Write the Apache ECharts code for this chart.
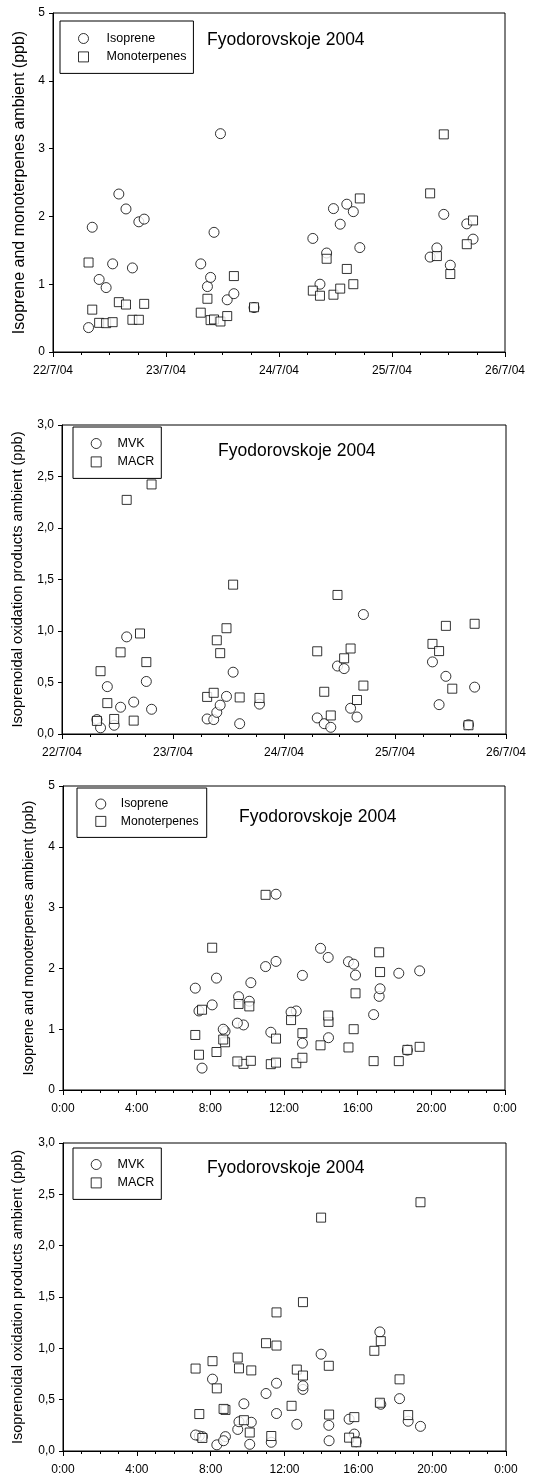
<!DOCTYPE html>
<html>
<head>
<meta charset="utf-8">
<title>Fyodorovskoje 2004</title>
<script src="https://cdn.jsdelivr.net/npm/echarts@6/dist/echarts.min.js"></script>
<style>
  html, body { margin: 0; padding: 0; background: #fff; }
  #chart { width: 534px; height: 1478px; }
</style>
</head>
<body>
<div id="chart"></div>
<script>
// Sampling times (local time) at Fyodorovskoje, July 2004
const sampleTimes = [
  '2004-07-22 07:33', '2004-07-22 08:20', '2004-07-22 09:48', '2004-07-22 11:17', '2004-07-22 12:40',
  '2004-07-22 13:59', '2004-07-22 15:30', '2004-07-22 16:52', '2004-07-22 18:14', '2004-07-22 19:22',
  '2004-07-23 07:23', '2004-07-23 08:48', '2004-07-23 09:28', '2004-07-23 10:12', '2004-07-23 11:34',
  '2004-07-23 13:00', '2004-07-23 14:25', '2004-07-23 18:42',
  '2004-07-24 07:11', '2004-07-24 08:42', '2004-07-24 10:07', '2004-07-24 11:34', '2004-07-24 13:00',
  '2004-07-24 14:24', '2004-07-24 15:47', '2004-07-24 17:10',
  '2004-07-25 08:06', '2004-07-25 09:32', '2004-07-25 11:00', '2004-07-25 12:23', '2004-07-25 15:53',
  '2004-07-25 17:13'
];

// Ambient mixing ratios (ppb), one value per sample; null = no measurement
const isoprene = [
  0.36, 1.84, 1.07, 0.95, 1.30, 2.33, 2.11, 1.24, 1.92, 1.96,
  1.30, 0.965, 1.10, 1.765, 3.22, 0.77, 0.86, 0.655,
  1.675, 1.00, 1.46, 2.115, 1.885, 2.18, 2.07, 1.54,
  1.40, 1.535, 2.03, 1.28, 1.89, 1.665
];
const monoterpenes = [
  1.32, 0.625, 0.43, 0.425, 0.44, 0.735, 0.70, 0.475, 0.475, 0.71,
  0.58, 0.785, 0.47, 0.48, 0.45, 0.53, 1.12, 0.66,
  0.905, 0.83, 1.375, 0.845, 0.935, 1.225, 1.00, 2.265,
  2.34, 1.415, 3.21, 1.15, 1.59, 1.94
];
const mvk = [
  0.14, 0.06, 0.46, 0.085, 0.26, 0.943, 0.31, null, 0.51, 0.24,
  0.146, 0.14, 0.21, 0.28, 0.365, 0.60, 0.10, 0.29,
  0.156, 0.10, 0.065, 0.66, 0.635, 0.25, 0.165, 1.16,
  0.70, 0.285, 0.56, null, 0.09, 0.455
];
const macr = [
  0.127, 0.61, 0.30, 0.146, 0.793, 2.273, 0.13, 0.976, 0.698, 2.423,
  0.36, 0.40, 0.91, 0.785, 1.027, 1.45, 0.355, 0.35,
  0.803, 0.41, 0.18, 1.35, 0.735, 0.83, 0.33, 0.47,
  0.875, 0.805, 1.05, 0.44, 0.085, 1.07
];

const siteTitle = 'Fyodorovskoje 2004';
const yTitleTerpenes = 'Isoprene and monoterpenes ambient (ppb)';
const yTitleProducts = 'Isoprenoidal oxidation products ambient (ppb)';

// ---- helpers ----
const DAY = 86400000;
const dateStart = Date.UTC(2004, 6, 22);
const dateEnd = Date.UTC(2004, 6, 26);

function stamp(s) {
  const [d, t] = s.split(' ');
  const [Y, M, D] = d.split('-').map(Number);
  const [h, m] = t.split(':').map(Number);
  return Date.UTC(Y, M - 1, D, h, m);
}
function hourOfDay(s) {
  const [h, m] = s.split(' ')[1].split(':').map(Number);
  return h + m / 60;
}
function pairs(xFn, values) {
  const out = [];
  sampleTimes.forEach((s, i) => {
    if (values[i] !== null && values[i] !== undefined) out.push([xFn(s), values[i]]);
  });
  return out;
}

const FONT = '"Liberation Sans", Arial, Helvetica, sans-serif';
const BLACK = '#000';

const grids = [
  { left: 53, top: 13, width: 452, height: 339 },
  { left: 62, top: 425, width: 444, height: 309 },
  { left: 63, top: 786, width: 442, height: 304 },
  { left: 63, top: 1143, width: 443, height: 308 }
].map(g => Object.assign({ show: true, borderColor: BLACK, borderWidth: 1, backgroundColor: 'transparent' }, g));

function xAxisBase(gridIndex) {
  return {
    gridIndex,
    type: 'value',
    axisLine: { show: true, onZero: false, lineStyle: { color: BLACK, width: 1 } },
    axisTick: { show: true, inside: false, length: 5, lineStyle: { color: BLACK } },
    minorTick: { show: true, splitNumber: 4, length: 3, lineStyle: { color: BLACK } },
    splitLine: { show: false },
    minorSplitLine: { show: false },
    axisLabel: { color: BLACK, fontSize: 12, fontFamily: FONT, margin: 13, showMinLabel: true, showMaxLabel: true }
  };
}
function dateAxis(gridIndex) {
  const a = xAxisBase(gridIndex);
  a.min = dateStart;
  a.max = dateEnd;
  a.interval = DAY;
  a.axisLabel.formatter = v => {
    const d = new Date(v);
    return d.getUTCDate() + '/' + (d.getUTCMonth() + 1) + '/04';
  };
  return a;
}
function hourAxis(gridIndex) {
  const a = xAxisBase(gridIndex);
  a.min = 0;
  a.max = 24;
  a.interval = 4;
  a.axisLabel.formatter = v => (v % 24) + ':00';
  return a;
}
function yAxis(gridIndex, max, interval, name, nameSize, nameGap, comma) {
  return {
    gridIndex,
    type: 'value',
    min: 0,
    max,
    interval,
    name,
    nameLocation: 'middle',
    nameGap,
    nameTextStyle: { color: BLACK, fontSize: nameSize, fontFamily: FONT },
    axisLine: { show: true, lineStyle: { color: BLACK, width: 1 } },
    axisTick: { show: true, inside: false, length: 4, lineStyle: { color: BLACK } },
    splitLine: { show: false },
    axisLabel: {
      color: BLACK, fontSize: 12, fontFamily: FONT, margin: 8,
      formatter: comma ? (v => v.toFixed(1).replace('.', ',')) : (v => String(v))
    }
  };
}

const circleStyle = { color: '#fff', borderColor: BLACK, borderWidth: 1 };
const squareStyle = { color: '#fff', borderColor: BLACK, borderWidth: 1 };

function scatter(name, idx, data, symbol, size, z) {
  return {
    name, type: 'scatter', xAxisIndex: idx, yAxisIndex: idx, data,
    symbol, symbolSize: size, z,
    itemStyle: symbol === 'circle' ? circleStyle : squareStyle,
    emphasis: { disabled: true }, silent: true
  };
}

// Boxed legend: circle row for the first species, square row for the second
function legendBox(names, left, top, padding, textGap, fontSize) {
  return {
    orient: 'vertical',
    left, top,
    padding,
    itemWidth: 10, itemHeight: 10, itemGap: 5.4,
    borderColor: BLACK, borderWidth: 1, backgroundColor: '#fff',
    selectedMode: false,
    textStyle: { color: BLACK, fontSize, fontFamily: FONT, padding: [0, 0, 0, textGap] },
    data: [
      { name: names[0], icon: 'circle', itemStyle: circleStyle },
      { name: names[1], icon: 'rect', itemStyle: Object.assign({}, squareStyle) }
    ]
  };
}

const titleStyle = { color: BLACK, fontSize: 17.5, fontWeight: 'normal', fontFamily: FONT };

const option = {
  animation: false,
  backgroundColor: '#fff',
  textStyle: { fontFamily: FONT },
  title: [
    { text: siteTitle, left: 207, top: 31, padding: 0, textStyle: titleStyle },
    { text: siteTitle, left: 218, top: 442, padding: 0, textStyle: titleStyle },
    { text: siteTitle, left: 239, top: 808, padding: 0, textStyle: titleStyle },
    { text: siteTitle, left: 207, top: 1159, padding: 0, textStyle: titleStyle }
  ],
  legend: [
    legendBox(['Isoprene', 'Monoterpenes'], 60, 21, [11, 7, 10, 18], 13, 12.5),
    legendBox(['MVK', 'MACR'], 73, 427, [10, 7, 10, 17.7], 11.3, 12.5),
    legendBox(['Isoprene', 'Monoterpenes'], 77, 788, [10, 8, 10, 18.3], 10, 12.2),
    legendBox(['MVK', 'MACR'], 73, 1148, [10, 7, 10, 17.7], 11.3, 12.5)
  ],
  grid: grids,
  xAxis: [dateAxis(0), dateAxis(1), hourAxis(2), hourAxis(3)],
  yAxis: [
    yAxis(0, 5, 1, yTitleTerpenes, 16, 24, false),
    yAxis(1, 3, 0.5, yTitleProducts, 14.6, 37, true),
    yAxis(2, 5, 1, yTitleTerpenes, 14.5, 27, false),
    yAxis(3, 3, 0.5, yTitleProducts, 14.5, 38, true)
  ],
  series: [
    scatter('Isoprene', 0, pairs(stamp, isoprene), 'circle', 10, 2),
    scatter('Monoterpenes', 0, pairs(stamp, monoterpenes), 'rect', 9, 3),
    scatter('MVK', 1, pairs(stamp, mvk), 'circle', 10, 2),
    scatter('MACR', 1, pairs(stamp, macr), 'rect', 9, 3),
    scatter('Isoprene', 2, pairs(hourOfDay, isoprene), 'circle', 10, 2),
    scatter('Monoterpenes', 2, pairs(hourOfDay, monoterpenes), 'rect', 9, 3),
    scatter('MVK', 3, pairs(hourOfDay, mvk), 'circle', 10, 2),
    scatter('MACR', 3, pairs(hourOfDay, macr), 'rect', 9, 3)
  ]
};

const chart = echarts.init(document.getElementById('chart'), null, { renderer: 'canvas' });
chart.setOption(option);
</script>
</body>
</html>
